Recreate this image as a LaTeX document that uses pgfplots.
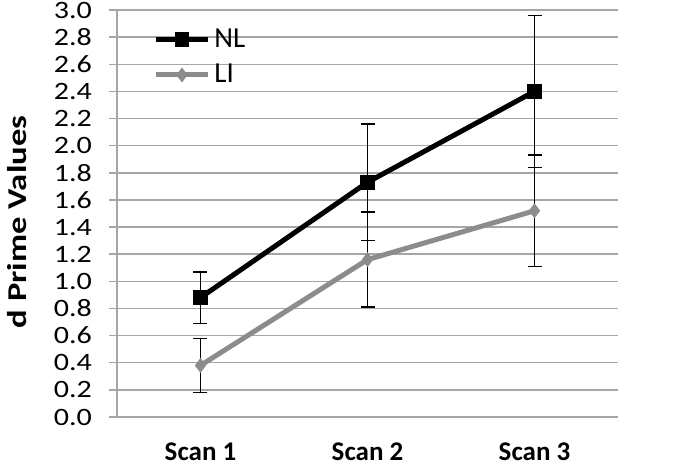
\documentclass[border=0pt]{standalone}
\usepackage{fontspec}
\setmainfont{Carlito}
\newfontfamily\tickfont[FakeStretch=1.2]{Carlito}
\newfontfamily\ylabfont[FakeStretch=1.27]{Carlito}
\usepackage{pgfplots}
\pgfplotsset{compat=1.18}
\definecolor{LIgray}{HTML}{8C8C8C}
\definecolor{gridgray}{HTML}{A6A6A6}

\begin{document}
\begin{tikzpicture}
\begin{axis}[
  name=ax,
  scale only axis,
  width=250.5pt, height=203.5pt,
  xmin=-0.5, xmax=2.5, ymin=0, ymax=3.0,
  axis lines*=left,
  axis line style={gridgray, line width=0.75pt},
  xtick={0,1,2},
  xticklabels={Scan 1,Scan 2,Scan 3},
  minor xtick={-0.5,0.5,1.5,2.5},
  xtick style={draw=none},
  minor x tick style={gridgray, line width=0.75pt, yshift=-2pt},
  minor tick length=4pt,
  ytick={0,0.2,0.4,0.6,0.8,1.0,1.2,1.4,1.6,1.8,2.0,2.2,2.4,2.6,2.8,3.0},
  ytick style={gridgray, line width=0.75pt},
  major tick length=8pt,
  tick align=center,
  ymajorgrids,
  grid style={gridgray, line width=0.75pt},
  yticklabel style={font=\tickfont\fontsize{12.5}{13}\selectfont, xshift=-5pt,
    /pgf/number format/fixed, /pgf/number format/fixed zerofill,
    /pgf/number format/precision=1, /pgf/number format/assume math mode=true},
  xticklabel style={font=\bfseries\fontsize{13.5}{14}\selectfont,
    inner sep=0pt, yshift=-8.5pt},
  ylabel={d Prime Values},
  every axis y label/.style={at={(axis description cs:0,0.479)}, xshift=-50pt,
    rotate=90, anchor=center, font=\ylabfont\bfseries\fontsize{13.6}{14}\selectfont},
  legend style={draw=none, fill=none, at={(0.06,0.975)}, anchor=north west,
    font=\fontsize{14.5}{14.5}\selectfont, row sep=3pt,
    cells={anchor=west}},
  legend image code/.code={
    \draw[mark repeat=2, mark phase=2, #1] plot coordinates {(0pt,0pt) (13pt,0pt) (26pt,0pt)};
  },
  clip=false,
]
  \addplot[black, line width=2.5pt, mark=square*, mark size=3.4pt,
    mark options={line width=0.4pt},
    error bars/.cd, y dir=both, y explicit,
    error bar style={black, line width=0.75pt},
    error mark options={rotate=90, mark size=3.5pt, black, line width=0.75pt}]
    coordinates {(0,0.88) +- (0,0.19) (1,1.73) +- (0,0.43) (2,2.40) +- (0,0.56)};
  \addplot[LIgray, line width=2.5pt, mark=diamond*, mark size=3.4pt,
    mark options={line width=0.4pt},
    error bars/.cd, y dir=both, y explicit,
    error bar style={black, line width=0.75pt},
    error mark options={rotate=90, mark size=3.5pt, black, line width=0.75pt}]
    coordinates {(0,0.38) +- (0,0.20) (1,1.16) +- (0,0.35) (2,1.52) +- (0,0.41)};
  \legend{NL,LI}
\end{axis}
\pgfresetboundingbox
\path (ax.south west) ++(-58.5pt,-24.5pt) rectangle ++(336.5pt,233pt);
\end{tikzpicture}
\end{document}
